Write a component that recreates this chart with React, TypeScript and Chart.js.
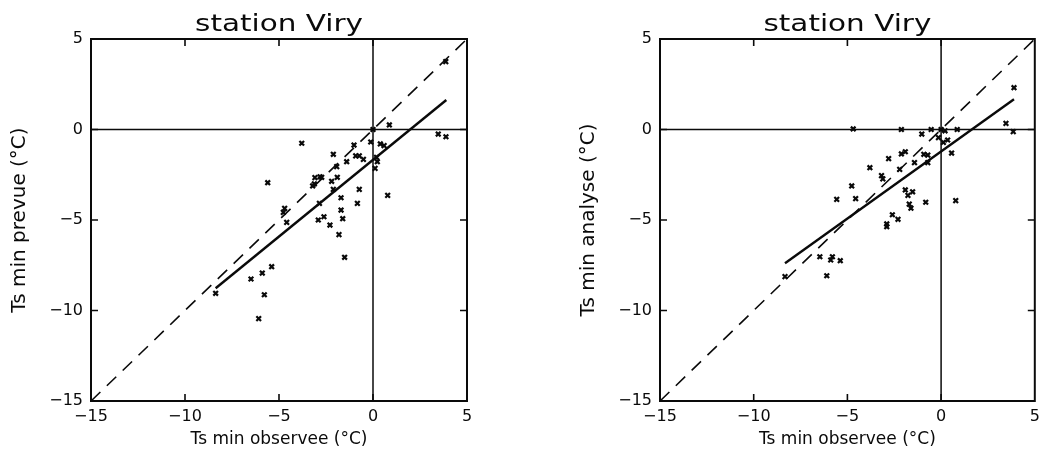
import React, { useEffect, useRef } from "react";
import { Chart, registerables } from "chart.js";

Chart.register(...registerables);

// ---------- texts ----------
const titleText = "station Viry";
const xTitle = "Ts min observee (°C)";
const leftYTitle = "Ts min prevue (°C)";
const rightYTitle = "Ts min analyse (°C)";

// ---------- axes ----------
const axisMin = -15;
const axisMax = 5;
const axisStep = 5;
const innerTicks = [-10, -5, 0];

// ---------- reference lines ----------
const diagX = [-15, 5];
const diagY = [-15, 5];
const zeroSpan = [-15, 5];

// ---------- left panel: observed vs forecast ----------
const leftObs = [
  0.87, 0, 3.47, 3.88, -3.79, -0.12, 0.39, 0.59, -1.01, -2.11, -0.92, -0.73, -0.51,
  0.19, 0.23, 0.11, -1.4, -1.93, -5.6, -3.09, -2.82, -2.73, -3.21, -3.12, -2.2, -1.9,
  -2.11, -0.73, -1.7, -0.83, 0.78, -4.7, -4.77, -2.85, -4.59, -1.7, -2.91, -2.61,
  -1.61, -2.29, -1.81, -1.51, -5.39, -5.89, -6.49, -5.78, -8.37, -6.08, 3.87,
];
const leftPrev = [
  0.25, 0, -0.25, -0.4, -0.76, -0.69, -0.8, -0.89, -0.86, -1.37, -1.46, -1.46, -1.65,
  -1.54, -1.78, -2.15, -1.78, -2.05, -2.94, -2.66, -2.61, -2.64, -3.12, -3.01, -2.86,
  -2.64, -3.31, -3.31, -3.77, -4.08, -3.64, -4.36, -4.58, -4.08, -5.13, -4.45, -5.0,
  -4.82, -4.93, -5.28, -5.81, -7.06, -7.58, -7.93, -8.26, -9.13, -9.05, -10.45, 3.75,
];
const leftFitX = [-8.37, 3.9];
const leftFitY = [-8.77, 1.63];

// ---------- right panel: observed vs analysis ----------
const rightObs = [
  -4.69, -2.12, -0.53, 0, 0.21, 0.86, 3.46, 3.85, -1.03, -0.14, 0.12, 0.35, 0.56,
  -2.12, -1.91, -2.8, -0.92, -0.71, -1.42, -0.71, -3.8, -2.21, -3.18, -3.11, -4.77,
  -5.57, -4.56, -1.91, -1.52, -1.77, -1.7, -1.61, -0.82, 0.78, -2.6, -2.3, -2.9, -2.9,
  -6.47, -5.8, -5.89, -5.38, -6.1, -8.33, 3.89,
];
const rightAna = [
  0.03, 0, 0, 0, -0.07, 0, 0.34, -0.12, -0.25, -0.45, -0.71, -0.58, -1.3, -1.35,
  -1.23, -1.61, -1.37, -1.41, -1.83, -1.83, -2.11, -2.2, -2.55, -2.73, -3.12, -3.86,
  -3.82, -3.34, -3.44, -3.64, -4.12, -4.35, -4.02, -3.93, -4.71, -4.96, -5.22, -5.37,
  -7.03, -7.03, -7.21, -7.25, -8.08, -8.13, 2.31,
];
const rightFitX = [-8.33, 3.89];
const rightFitY = [-7.39, 1.67];

const INK = "#0a0a0a";
const FONT = '"DejaVu Sans", "Liberation Sans", sans-serif';

const pairs = (xs: number[], ys: number[]) => xs.map((x, i) => ({ x, y: ys[i] }));

const framePlugin = {
  id: "idlFrame",
  afterDatasetsDraw(chart: any) {
    const { ctx, chartArea: a, scales } = chart;
    ctx.save();
    ctx.strokeStyle = INK;
    ctx.lineWidth = 2;
    ctx.strokeRect(a.left, a.top, a.right - a.left, a.bottom - a.top);
    ctx.lineWidth = 1.6;
    const tl = 7;
    ctx.beginPath();
    innerTicks.forEach((v) => {
      const px = scales.x.getPixelForValue(v);
      ctx.moveTo(px, a.bottom);
      ctx.lineTo(px, a.bottom - tl);
      ctx.moveTo(px, a.top);
      ctx.lineTo(px, a.top + tl);
      const py = scales.y.getPixelForValue(v);
      ctx.moveTo(a.left, py);
      ctx.lineTo(a.left + tl, py);
      ctx.moveTo(a.right, py);
      ctx.lineTo(a.right - tl, py);
    });
    ctx.stroke();
    ctx.restore();
  },
  afterDraw(chart: any) {
    const { ctx, chartArea: a } = chart;
    ctx.save();
    ctx.font = `23px ${FONT}`;
    ctx.textAlign = "center";
    ctx.textBaseline = "alphabetic";
    ctx.fillStyle = INK;
    ctx.translate((a.left + a.right) / 2, a.top - 8);
    ctx.scale(1.28, 1);
    ctx.fillText(titleText, 0, 0);
    ctx.restore();
  },
};

const tickLabel = (v: any) => String(v).replace("-", "\u2212");

function buildConfig(
  obs: number[],
  est: number[],
  fitX: number[],
  fitY: number[],
  yTitle: string,
  padRight: number
): any {
  return {
    type: "scatter",
    data: {
      datasets: [
        {
          data: pairs([zeroSpan[0], zeroSpan[1]], [0, 0]),
          showLine: true,
          borderColor: INK,
          borderWidth: 1.5,
          pointRadius: 0,
        },
        {
          data: pairs([0, 0], [zeroSpan[0], zeroSpan[1]]),
          showLine: true,
          borderColor: INK,
          borderWidth: 1.5,
          pointRadius: 0,
        },
        {
          data: pairs(diagX, diagY),
          showLine: true,
          borderColor: INK,
          borderWidth: 1.6,
          borderDash: [13, 9],
          pointRadius: 0,
        },
        {
          data: pairs(fitX, fitY),
          showLine: true,
          borderColor: INK,
          borderWidth: 2.4,
          pointRadius: 0,
        },
        {
          data: pairs(obs, est),
          pointStyle: "crossRot",
          pointRadius: 3.3,
          borderWidth: 2.2,
          borderColor: INK,
          backgroundColor: INK,
        },
      ],
    },
    options: {
      responsive: false,
      maintainAspectRatio: false,
      animation: false,
      events: [],
      layout: { padding: { top: 39, left: 0, right: padRight, bottom: 0 } },
      plugins: {
        legend: { display: false },
        title: { display: false },
        tooltip: { enabled: false },
      },
      scales: {
        x: {
          type: "linear",
          min: axisMin,
          max: axisMax,
          grid: { display: false, drawTicks: false },
          border: { display: false },
          ticks: {
            stepSize: axisStep,
            autoSkip: false,
            maxRotation: 0,
            padding: 6.5,
            color: INK,
            font: { family: FONT, size: 16 },
            callback: tickLabel,
          },
          title: {
            display: true,
            text: xTitle,
            color: INK,
            font: { family: FONT, size: 17 },
            padding: { top: 0, bottom: 0.7 },
          },
          afterFit(s: any) {
            s.height = 49;
            s.paddingLeft = 0;
            s.paddingRight = 0;
          },
        },
        y: {
          type: "linear",
          min: axisMin,
          max: axisMax,
          grid: { display: false, drawTicks: false },
          border: { display: false },
          ticks: {
            stepSize: axisStep,
            autoSkip: false,
            padding: 8,
            color: INK,
            font: { family: FONT, size: 16 },
            callback: tickLabel,
          },
          title: {
            display: true,
            text: yTitle,
            color: INK,
            font: { family: FONT, size: 20 },
            padding: { top: 8, bottom: 0 },
          },
          afterFit(s: any) {
            s.width = 91;
            s.paddingTop = 0;
            s.paddingBottom = 0;
          },
        },
      },
    },
    plugins: [framePlugin],
  };
}

function Panel(props: {
  left: number;
  width: number;
  padRight: number;
  obs: number[];
  est: number[];
  fitX: number[];
  fitY: number[];
  yTitle: string;
}) {
  const ref = useRef<HTMLCanvasElement | null>(null);
  useEffect(() => {
    if (!ref.current) return;
    const chart = new Chart(
      ref.current,
      buildConfig(props.obs, props.est, props.fitX, props.fitY, props.yTitle, props.padRight)
    );
    return () => chart.destroy();
  }, []);
  return (
    <canvas
      ref={ref}
      width={props.width}
      height={450}
      style={{ position: "absolute", left: props.left, top: 0, width: props.width, height: 450 }}
    />
  );
}

export default function App() {
  return (
    <div
      style={{
        position: "fixed",
        left: 0,
        top: 0,
        width: 1041,
        height: 450,
        background: "#fff",
        overflow: "hidden",
      }}
    >
      <Panel
        left={0}
        width={520}
        padRight={53}
        obs={leftObs}
        est={leftPrev}
        fitX={leftFitX}
        fitY={leftFitY}
        yTitle={leftYTitle}
      />
      <Panel
        left={569}
        width={472}
        padRight={4}
        obs={rightObs}
        est={rightAna}
        fitX={rightFitX}
        fitY={rightFitY}
        yTitle={rightYTitle}
      />
    </div>
  );
}
